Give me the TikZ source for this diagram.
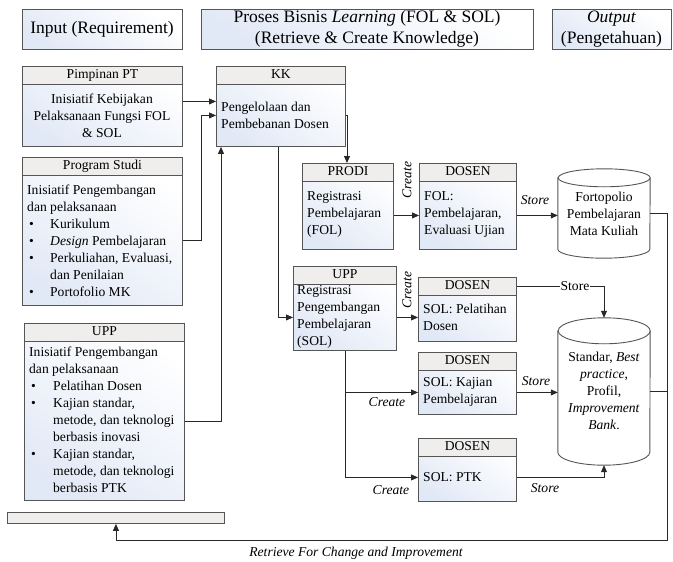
\documentclass[tikz,border=0pt]{standalone}
\usepackage{fontspec}
\setmainfont{Liberation Serif}
\usetikzlibrary{arrows.meta,calc}
\definecolor{bodyblue}{RGB}{226,233,246}
\definecolor{headgray}{RGB}{239,238,236}
\definecolor{edgegray}{RGB}{85,85,85}
\definecolor{linegray}{RGB}{40,40,40}
\newcommand{\bodyfont}{\fontsize{13.6}{17}\selectfont}
\newcommand{\hdrfont}{\fontsize{17.5}{21}\selectfont}
\newcommand{\umlbox}[6]{%
  \node[bodybox, minimum width=#4pt, minimum height=#5pt] (#1) at (#2,#3) {};
  \node[headbox, minimum width=#4pt] (#1-h) at (#2,#3) {#6};
}
\newcommand{\cylpath}[2]{%
  \draw[cylline] ([yshift=-#2]#1.north west) -- ([yshift=#2]#1.south west)
    arc[start angle=180, end angle=360, x radius=46pt, y radius=#2]
    -- ([yshift=-#2]#1.north east)
    arc[start angle=0, end angle=180, x radius=46pt, y radius=#2] -- cycle;
  \draw[cylline, fill=none] ([yshift=-#2]#1.north east)
    arc[start angle=0, end angle=-180, x radius=46pt, y radius=#2];
}
\tikzset{
  bodybox/.style={draw=edgegray, line width=0.9pt, top color=white, bottom color=bodyblue,
    shading angle=-35, inner sep=0pt, anchor=north west},
  headbox/.style={draw=edgegray, line width=0.9pt, fill=headgray, inner sep=0pt,
    anchor=north west, minimum height=18pt, text height=10pt, text depth=3pt, font=\bodyfont},
  hdrbox/.style={draw=edgegray, line width=0.9pt, top color=white, bottom color=bodyblue,
    shading angle=-35, inner sep=0pt, align=center, font=\hdrfont},
  barbox/.style={draw=edgegray, line width=0.9pt, fill=headgray, inner sep=0pt, anchor=north west},
  txt/.style={inner sep=0pt, align=left, font=\bodyfont},
  ctxt/.style={inner sep=0pt, align=center, font=\bodyfont},
  lbl/.style={inner sep=1pt, font=\bodyfont\itshape},
  conn/.style={draw=linegray, line width=0.8pt, -{Triangle[length=7pt,width=6pt]}},
  plain/.style={draw=linegray, line width=0.8pt},
  cylspace/.style={inner sep=0pt, draw=none},
  cylline/.style={draw=edgegray, line width=0.9pt, fill=white},
}
\begin{document}
\begin{tikzpicture}[x=1pt, y=-1pt]
\useasboundingbox (0,0) rectangle (673,562);

% top headers
\node[hdrbox, minimum width=160pt, minimum height=40pt] (hin) at (102,29) {Input (Requirement)};
\node[hdrbox, minimum width=332pt, minimum height=40pt] (hproc) at (367,29)
  {Proses Bisnis \textit{Learning} (FOL \& SOL)\\(Retrieve \& Create Knowledge)};
\node[hdrbox, minimum width=119pt, minimum height=40pt] (hout) at (611.5,29)
  {\textit{Output}\\(Pengetahuan)};

% left column
\umlbox{pim}{22}{66}{160}{80}{Pimpinan PT}
\node[ctxt] (pimt) at (102,116) {Inisiatif Kebijakan\\Pelaksanaan Fungsi FOL\\\& SOL};

\umlbox{ps}{22}{157}{160}{148}{Program Studi}
\node[txt, anchor=north west] (pst) at (27,182) {%
\begin{tabular}{@{}p{23pt}@{}l@{}}
\multicolumn{2}{@{}l@{}}{Inisiatif Pengembangan}\\
\multicolumn{2}{@{}l@{}}{dan pelaksanaan}\\
\hspace*{2pt}\textbullet & Kurikulum\\
\hspace*{2pt}\textbullet & \textit{Design} Pembelajaran\\
\hspace*{2pt}\textbullet & Perkuliahan, Evaluasi,\\
 & dan Penilaian\\
\hspace*{2pt}\textbullet & Portofolio MK
\end{tabular}};

\umlbox{upl}{24}{323}{160}{177}{UPP}
\node[txt, anchor=north west] (uplt) at (29,344) {%
\begin{tabular}{@{}p{24pt}@{}l@{}}
\multicolumn{2}{@{}l@{}}{Inisiatif Pengembangan}\\
\multicolumn{2}{@{}l@{}}{dan pelaksanaan}\\
\hspace*{2pt}\textbullet & Pelatihan Dosen\\
\hspace*{2pt}\textbullet & Kajian standar,\\
 & metode, dan teknologi\\
 & berbasis inovasi\\
\hspace*{2pt}\textbullet & Kajian standar,\\
 & metode, dan teknologi\\
 & berbasis PTK
\end{tabular}};

\node[barbox, minimum width=217pt, minimum height=11pt] (bar) at (7,512) {};

% middle
\umlbox{kk}{216}{66}{129}{80}{KK}
\node[txt, anchor=west] (kkt) at (221,115) {Pengelolaan dan\\Pembebanan Dosen};

\umlbox{prodi}{302}{163}{91}{86}{PRODI}
\node[txt, anchor=west] (prodit) at (307,214) {Registrasi\\Pembelajaran\\(FOL)};

\umlbox{dfol}{419}{163}{97}{86}{DOSEN}
\node[txt, anchor=west] (dfolt) at (424,214) {FOL:\\Pembelajaran,\\Evaluasi Ujian};

\umlbox{upps}{293}{266}{103}{84}{UPP}
\node[txt, anchor=west] (uppst) at (297,317) {Registrasi\\Pengembangan\\Pembelajaran\\(SOL)};

\umlbox{dpel}{418}{277}{98}{64}{DOSEN}
\node[txt, anchor=west] (dpelt) at (423,317) {SOL: Pelatihan\\Dosen};

\umlbox{dkaj}{418}{352}{98}{62}{DOSEN}
\node[txt, anchor=west] (dkajt) at (423,392) {SOL: Kajian\\Pembelajaran};

\umlbox{dptk}{418}{438}{98}{63}{DOSEN}
\node[txt, anchor=west] (dptkt) at (423,477) {SOL: PTK};

% cylinders
\node[cylspace, minimum width=92pt, minimum height=89pt] (cyl1) at (604,213.5) {};
\cylpath{cyl1}{9pt}
\node[ctxt] (cyl1t) at (604,214) {Fortopolio\\Pembelajaran\\Mata Kuliah};

\node[cylspace, minimum width=92pt, minimum height=147pt] (cyl2) at (604,391.5) {};
\cylpath{cyl2}{13pt}
\node[ctxt] (cyl2t) at (604,391) {Standar, \textit{Best}\\\textit{practice},\\Profil,\\\textit{Improvement}\\\textit{Bank}.};

% connectors
\draw[conn] ([yshift=5pt]pim.east) -- ([yshift=5pt]kk.west);
\draw[conn] ([yshift=-9pt]ps.east) -- ++(18pt,0pt) |- ([yshift=-9pt]kk.west);
\draw[conn] ([yshift=-9.5pt]upl.east) -| ([xshift=5pt]kk.south west);
\draw[conn] ([xshift=62pt]kk.south west) |- ([yshift=-9pt]upps.west);
\draw[conn] ([yshift=-9pt]kk.east) -| ([xshift=45pt]prodi.north west);
\draw[conn] ([yshift=-9pt]prodi.east) -- ([yshift=-9pt]dfol.west);
\draw[conn] ([yshift=-9pt]dfol.east) coordinate (s1) -- (s1 -| cyl1.west);
\draw[conn] ([yshift=-9pt]upps.east) coordinate (s2) -- (s2 -| dpel.west);
\draw[conn] ([yshift=23pt]dpel.east) -| (cyl2.north);
\draw[conn] (upps.south) |- ([yshift=-9pt]dkaj.west);
\draw[conn] (upps.south) |- ([yshift=-7.5pt]dptk.west);
\draw[conn] ([yshift=-9pt]dkaj.east) coordinate (s3) -- (s3 -| cyl2.west);
\draw[conn] ([yshift=-7.5pt]dptk.east) -| (cyl2.south);
\coordinate (rc) at (667,540);
\draw[conn] (cyl1.east) -| (rc) -| (bar.south);
\draw[plain] (cyl2.east) -- (cyl2.east -| rc);

% labels
\node[lbl, rotate=90] (c1) at (407,180) {Create};
\node[lbl, rotate=90] (c2) at (407,290) {Create};
\node[lbl] (st1) at (535,200) {Store};
\node[inner sep=1pt, fill=white, font=\bodyfont] (st2) at (575,286) {Store};
\node[lbl] (st3) at (536,381) {Store};
\node[lbl] (c3) at (387,402) {Create};
\node[lbl] (c4) at (391,490) {Create};
\node[lbl] (st4) at (545,488) {Store};
\node[lbl] (ret) at (356,553) {Retrieve For Change and Improvement};
\end{tikzpicture}
\end{document}
